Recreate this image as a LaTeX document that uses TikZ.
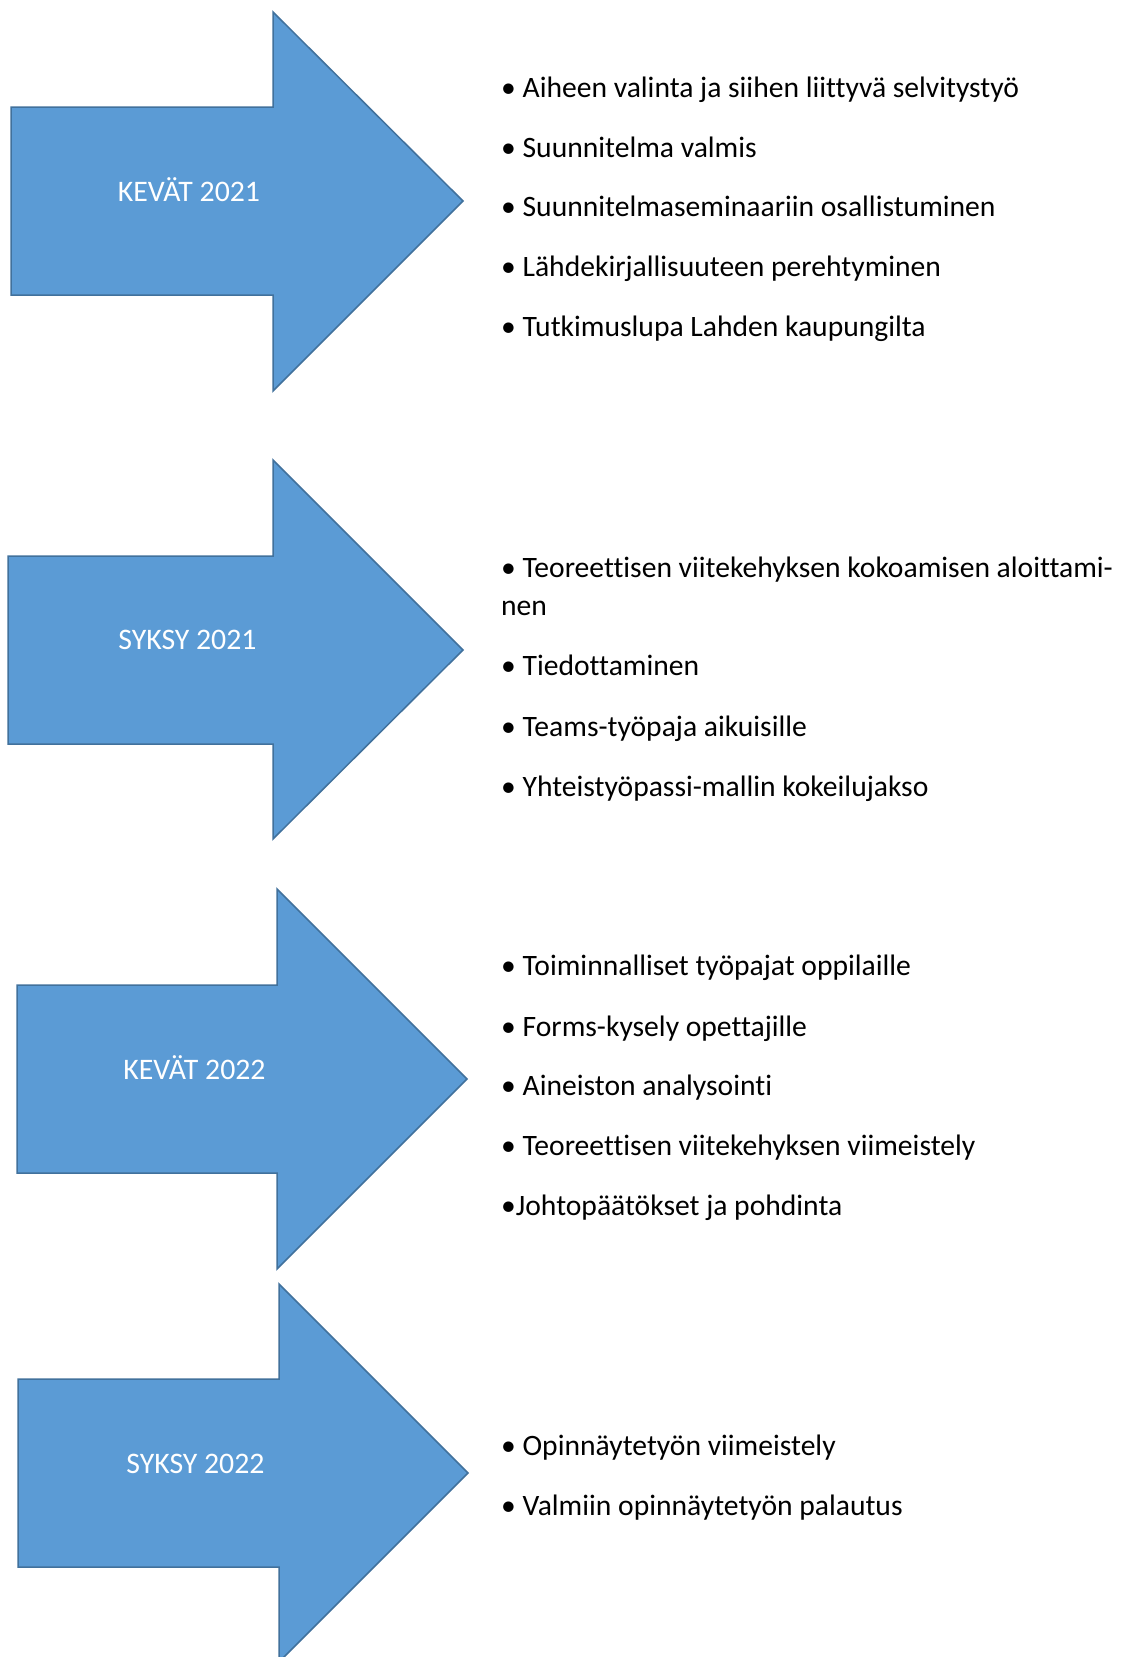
\documentclass[tikz,border=0pt]{standalone}
\usepackage{fontspec}
\setmainfont{Carlito}[Ligatures=NoCommon]
\definecolor{arrowfill}{HTML}{5B9BD5}
\definecolor{arrowline}{HTML}{41719C}
\tikzset{
  bigarrow/.style={fill=arrowfill, draw=arrowline, line width=1.5pt, line join=miter},
  period/.style={text=white, font=\fontsize{29.8}{36}\selectfont, inner sep=0pt, anchor=base},
  item/.style={text=black, font=\fontsize{29.6}{36}\selectfont, inner sep=0pt, anchor=base west},
}
\begin{document}
\begin{tikzpicture}[x=1pt,y=-1pt]
\useasboundingbox (0,0) rectangle (1123,1657);
\clip (0,0) rectangle (1123,1657);
\fill[white] (0,0) rectangle (1123,1657);
% arrows
\draw[bigarrow] (11,107) -- (273,107) -- (273,12) -- (463,201) -- (273,391) -- (273,295) -- (11,295) -- cycle;
\draw[bigarrow] (8,556) -- (273,556) -- (273,460) -- (463,650) -- (273,839) -- (273,744) -- (8,744) -- cycle;
\draw[bigarrow] (17,985) -- (277,985) -- (277,889) -- (467,1079) -- (277,1269) -- (277,1173) -- (17,1173) -- cycle;
\draw[bigarrow] (18,1379) -- (279,1379) -- (279,1284) -- (468,1473) -- (279,1662) -- (279,1567) -- (18,1567) -- cycle;
% labels
\node[period] (p1) at (189,201) {KEVÄT 2021};
\node[period] (p2) at (187.5,649) {SYKSY 2021};
\node[period] (p3) at (194.5,1079) {KEVÄT 2022};
\node[period] (p4) at (195.5,1473) {SYKSY 2022};
% block 1
\node[item] (a1) at (501,97) {• Aiheen valinta ja siihen liittyvä selvitystyö};
\node[item] (a2) at (501,157) {• Suunnitelma valmis};
\node[item] (a3) at (501,216) {• Suunnitelmaseminaariin osallistuminen};
\node[item] (a4) at (501,276) {• Lähdekirjallisuuteen perehtyminen};
\node[item] (a5) at (501,336) {• Tutkimuslupa Lahden kaupungilta};
% block 2
\node[item] (b1) at (501,577) {• Teoreettisen viitekehyksen kokoamisen aloittami-};
\node[item] (b1b) at (501,615) {nen};
\node[item] (b2) at (501,675.5) {• Tiedottaminen};
\node[item] (b3) at (501,736) {• Teams-työpaja aikuisille};
\node[item] (b4) at (501,796) {• Yhteistyöpassi-mallin kokeilujakso};
% block 3
\node[item] (c1) at (501,975.5) {• Toiminnalliset työpajat oppilaille};
\node[item] (c2) at (501,1036) {• Forms-kysely opettajille};
\node[item] (c3) at (501,1095) {• Aineiston analysointi};
\node[item] (c4) at (501,1155) {• Teoreettisen viitekehyksen viimeistely};
\node[item] (c5) at (501,1215) {•Johtopäätökset ja pohdinta};
% block 4
\node[item] (d1) at (501,1455) {• Opinnäytetyön viimeistely};
\node[item] (d2) at (501,1515) {• Valmiin opinnäytetyön palautus};
\end{tikzpicture}
\end{document}
